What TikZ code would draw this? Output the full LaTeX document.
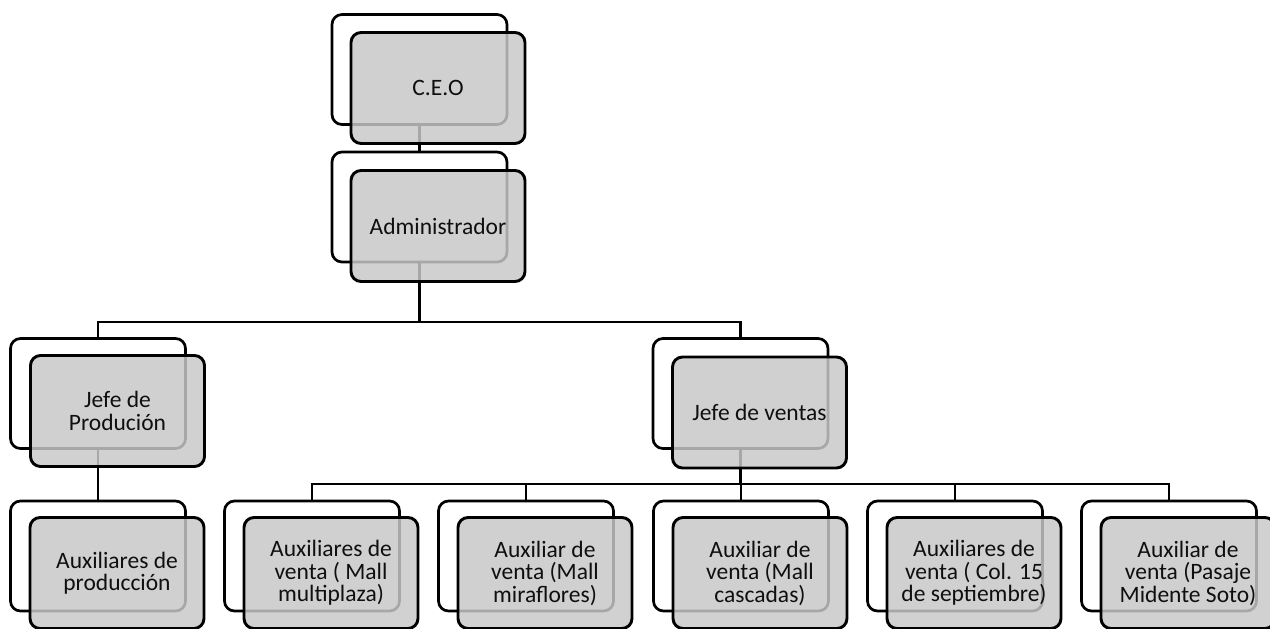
\documentclass[tikz,border=0pt]{standalone}
\usepackage{fontspec}
\setmainfont{Carlito}
\begin{document}
\begin{tikzpicture}[x=1pt,y=-1pt,
  backbox/.style={draw=black,line width=2.7pt,fill=white,rounded corners=10pt,minimum width=175pt,minimum height=110pt,inner sep=0pt},
  frontbox/.style={draw=black,line width=2.9pt,fill={rgb,255:red,200;green,200;blue,200},fill opacity=0.84,text opacity=1,rounded corners=10pt,minimum width=174pt,minimum height=111pt,inner sep=0pt,align=center,font=\fontsize{23.5}{22.5}\selectfont,text={rgb,255:red,15;green,15;blue,15}},
  conn/.style={draw=black,line width=2.8pt}]
\useasboundingbox (0,0) rectangle (1270,629);
% back boxes
\node[backbox] (ceoB) at (419.5,69.5) {};
\node[backbox] (admB) at (419.5,207) {};
\node[backbox] (jpB) at (98,393.5) {};
\node[backbox] (jvB) at (740.5,393.5) {};
\node[backbox] (apB) at (98,556) {};
\node[backbox] (a1B) at (312,556) {};
\node[backbox] (a2B) at (526,556) {};
\node[backbox] (a3B) at (741,556) {};
\node[backbox] (a4B) at (955,556) {};
\node[backbox] (a5B) at (1169,556) {};
% connectors
\coordinate (bus1) at (419.5,322);
\coordinate (bus2) at (740.5,484);
\draw[conn] (ceoB.south) -- (admB.north);
\draw[conn] (admB.south) -- (bus1);
\draw[conn] (jpB.north) |- (bus1) -| (jvB.north);
\draw[conn] (jpB.south) -- (apB.north);
\draw[conn] (jvB.south) -- (bus2);
\draw[conn] (a1B.north) |- (bus2) -| (a5B.north);
\draw[conn] (a2B.north) -- (a2B.north |- bus2);
\draw[conn] (a3B.north) -- (a3B.north |- bus2);
\draw[conn] (a4B.north) -- (a4B.north |- bus2);
% front boxes
\node[frontbox] (ceo) at (438,88) {C.E.O};
\node[frontbox] (adm) at (438,226) {Administrador};
\node[frontbox] (jp) at (117.5,411) {Jefe de\\Produción};
\node[frontbox] (jv) at (759.5,412.5) {Jefe de ventas};
\node[frontbox] (ap) at (117,573) {Auxiliares de\\producción};
\node[frontbox] (a1) at (331,573) {Auxiliares de\\venta ( Mall\\multiplaza)};
\node[frontbox] (a2) at (545,573) {Auxiliar de\\venta (Mall\\miraflores)};
\node[frontbox] (a3) at (760,573) {Auxiliar de\\venta (Mall\\cascadas)};
\node[frontbox] (a4) at (974,573) {Auxiliares de\\venta ( Col. 15\\de septiembre)};
\node[frontbox] (a5) at (1188,573) {Auxiliar de\\venta (Pasaje\\Midente Soto)};
\end{tikzpicture}
\end{document}
